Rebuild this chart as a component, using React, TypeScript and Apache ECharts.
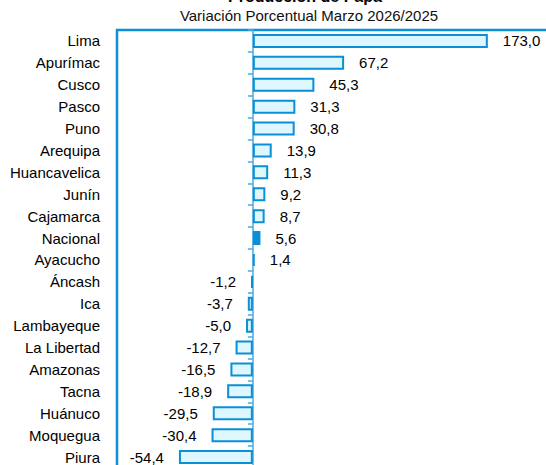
import React, { useEffect, useRef } from "react";
import * as echarts from "echarts";

const categories = [
  "Lima", "Apurímac", "Cusco", "Pasco", "Puno", "Arequipa", "Huancavelica", "Junín",
  "Cajamarca", "Nacional", "Ayacucho", "Áncash", "Ica", "Lambayeque", "La Libertad",
  "Amazonas", "Tacna", "Huánuco", "Moquegua", "Piura",
];
const values = [
  173.0, 67.2, 45.3, 31.3, 30.8, 13.9, 11.3, 9.2, 8.7, 5.6, 1.4, -1.2, -3.7, -5.0,
  -12.7, -16.5, -18.9, -29.5, -30.4, -54.4,
];
const highlight = "Nacional";
const title = "Producción de Papa";
const subtitle = "Variación Porcentual Marzo 2026/2025";

const FONT = '"Liberation Sans Narrow", "Arial Narrow", "Liberation Sans", Arial, sans-serif';
const BLUE = "#0b8fd6";
const LIGHT = "#def6fd";

export default function App() {
  const ref = useRef<HTMLDivElement>(null);
  useEffect(() => {
    if (!ref.current) return;
    const chart = echarts.init(ref.current, null, { renderer: "svg" });
    const data = values.map((v, i) => {
      const isHi = categories[i] === highlight;
      return {
        value: v,
        itemStyle: { color: isHi ? BLUE : LIGHT, borderColor: BLUE, borderWidth: 2 },
        label: { position: v < 0 ? "left" : "right" },
      };
    });
    chart.setOption({
      animation: false,
      graphic: [
        {
          type: "text", x: 305, y: -12,
          style: { text: title, font: `bold 16px ${FONT}`, fill: "#000", textAlign: "center" },
        },
        {
          type: "text", x: 309, y: 8,
          style: { text: subtitle, font: `15px ${FONT}`, fill: "#111", textAlign: "center" },
        },
      ],
      grid: {
        left: 117, top: 30, width: 489, height: 438,
        outerBoundsMode: "none",
        show: true, borderColor: BLUE, borderWidth: 2.5, backgroundColor: "#fff",
        containLabel: false,
      },
      xAxis: { type: "value", min: -100, max: 260, show: false },
      yAxis: [
        {
          type: "category", inverse: true, data: categories, position: "left",
          axisLine: { show: false, onZero: false }, axisTick: { show: false },
          axisLabel: { margin: 17, fontSize: 15, color: "#000", fontFamily: FONT },
        },
        {
          type: "category", inverse: true, data: categories, position: "left",
          axisLine: { show: true, onZero: true, onZeroAxisIndex: 0, lineStyle: { color: "#4aa8e2", width: 1.5 } },
          axisTick: { show: true, length: 5, lineStyle: { color: "#4aa8e2", width: 1.5 } },
          axisLabel: { show: false },
          splitLine: { show: false },
        },
      ],
      series: [
        {
          type: "bar", yAxisIndex: 0, data, barWidth: 14,
          label: {
            show: true, distance: 15, fontSize: 15, color: "#000", fontFamily: FONT,
            formatter: (p: any) => Number(p.value).toFixed(1).replace(".", ","),
          },
        },
      ],
    });
    return () => chart.dispose();
  }, []);
  return <div ref={ref} style={{ width: 546, height: 465, position: "absolute", left: 0, top: 0 }} />;
}
